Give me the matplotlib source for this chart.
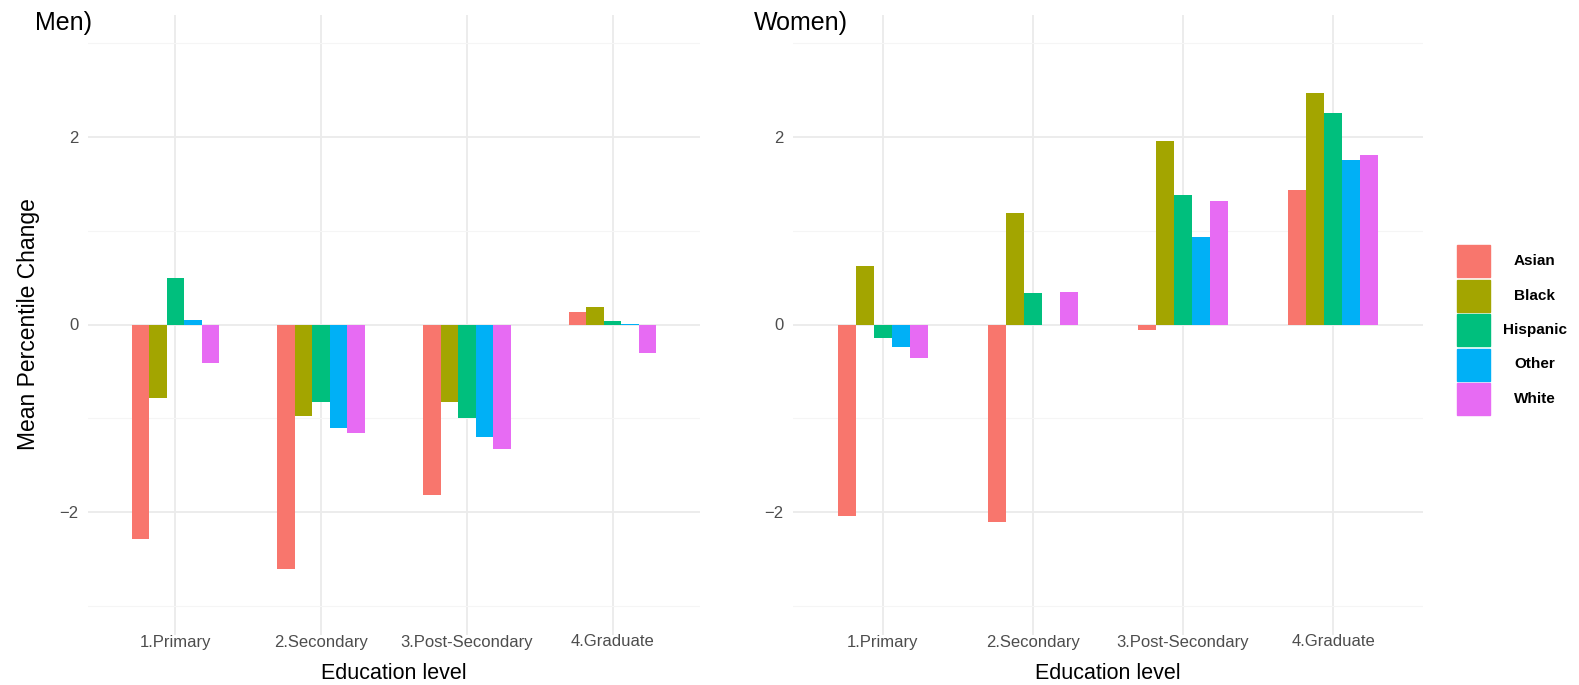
import numpy as np
import matplotlib.pyplot as plt
from matplotlib.patches import Rectangle

plt.rcParams['font.family'] = ['Liberation Sans', 'DejaVu Sans']

levels = ['1.Primary', '2.Secondary', '3.Post-Secondary', '4.Graduate']
groups = ['Asian', 'Black', 'Hispanic', 'Other', 'White']
colors = ['#F8766D', '#A3A500', '#00BF7D', '#00B0F6', '#E76BF3']

# mean percentile change, one list per group, in order of levels
men = {
    'Asian':    [-2.28, -2.60, -1.82, 0.13],
    'Black':    [-0.78, -0.97, -0.82, 0.19],
    'Hispanic': [0.50, -0.82, -0.99, 0.035],
    'Other':    [0.046, -1.10, -1.20, 0.007],
    'White':    [-0.41, -1.16, -1.33, -0.30],
}
women = {
    'Asian':    [-2.04, -2.10, -0.06, 1.43],
    'Black':    [0.62, 1.19, 1.95, 2.46],
    'Hispanic': [-0.14, 0.34, 1.38, 2.25],
    'Other':    [-0.24, -0.01, 0.93, 1.75],
    'White':    [-0.36, 0.35, 1.31, 1.80],
}

W, H = 1579, 685
fig = plt.figure(figsize=(W / 100, H / 100), dpi=100)

def px_axes(x0, x1, y0, y1):
    return fig.add_axes([x0 / W, 1 - y1 / H, (x1 - x0) / W, (y1 - y0) / H])

ax1 = px_axes(88, 700, 14.5, 634.5)
ax2 = px_axes(793, 1423, 14.5, 634.5)

x = np.arange(1, len(levels) + 1)
group_w = 0.6
bw = group_w / len(groups)

for ax, data in [(ax1, men), (ax2, women)]:
    for i, g in enumerate(groups):
        ax.bar(x - group_w / 2 + bw * (i + 0.5), data[g], width=bw, color=colors[i], zorder=2)
    ax.set_xlim(0.4, 4.6)
    ax.set_ylim(-3.3, 3.3)
    ax.set_xticks(x)
    ax.set_xticklabels(levels)
    ax.set_yticks([-2, 0, 2])
    ax.set_yticklabels(['\u22122', '0', '2'])
    ax.set_yticks([-3, -1, 1, 3], minor=True)
    ax.grid(True, which='major', color='#EBEBEB', linewidth=1.3, zorder=0)
    ax.grid(True, which='minor', axis='y', color='#F5F5F5', linewidth=0.8, zorder=0)
    ax.tick_params(which='both', length=0)
    ax.tick_params(axis='y', labelsize=12, labelcolor='#4D4D4D', pad=7)
    ax.tick_params(axis='x', labelsize=12, labelcolor='#4D4D4D', pad=0)
    for s in ax.spines.values():
        s.set_visible(False)
    ax.set_axisbelow(True)
    ax.set_xlabel('Education level', fontsize=15.5, labelpad=10)

ax1.set_ylabel('Mean Percentile Change', fontsize=16.5, labelpad=14)

fig.text(35 / W, 1 - 23 / H, 'Men)', fontsize=18, va='center', ha='left')
fig.text(754 / W, 1 - 23 / H, 'Women)', fontsize=18, va='center', ha='left')

# legend
lax = px_axes(1440, 1579, 240, 420)
lax.set_xlim(1440, 1579)
lax.set_ylim(420, 240)
lax.axis('off')
for i, g in enumerate(groups):
    y0 = 245 + i * 34.5
    lax.add_patch(Rectangle((1457, y0), 33, 32, color=colors[i]))
    lax.text(1535, y0 + 16, g, fontsize=11, fontweight='bold', ha='center', va='center')

fig.savefig('out.png', dpi=100)
